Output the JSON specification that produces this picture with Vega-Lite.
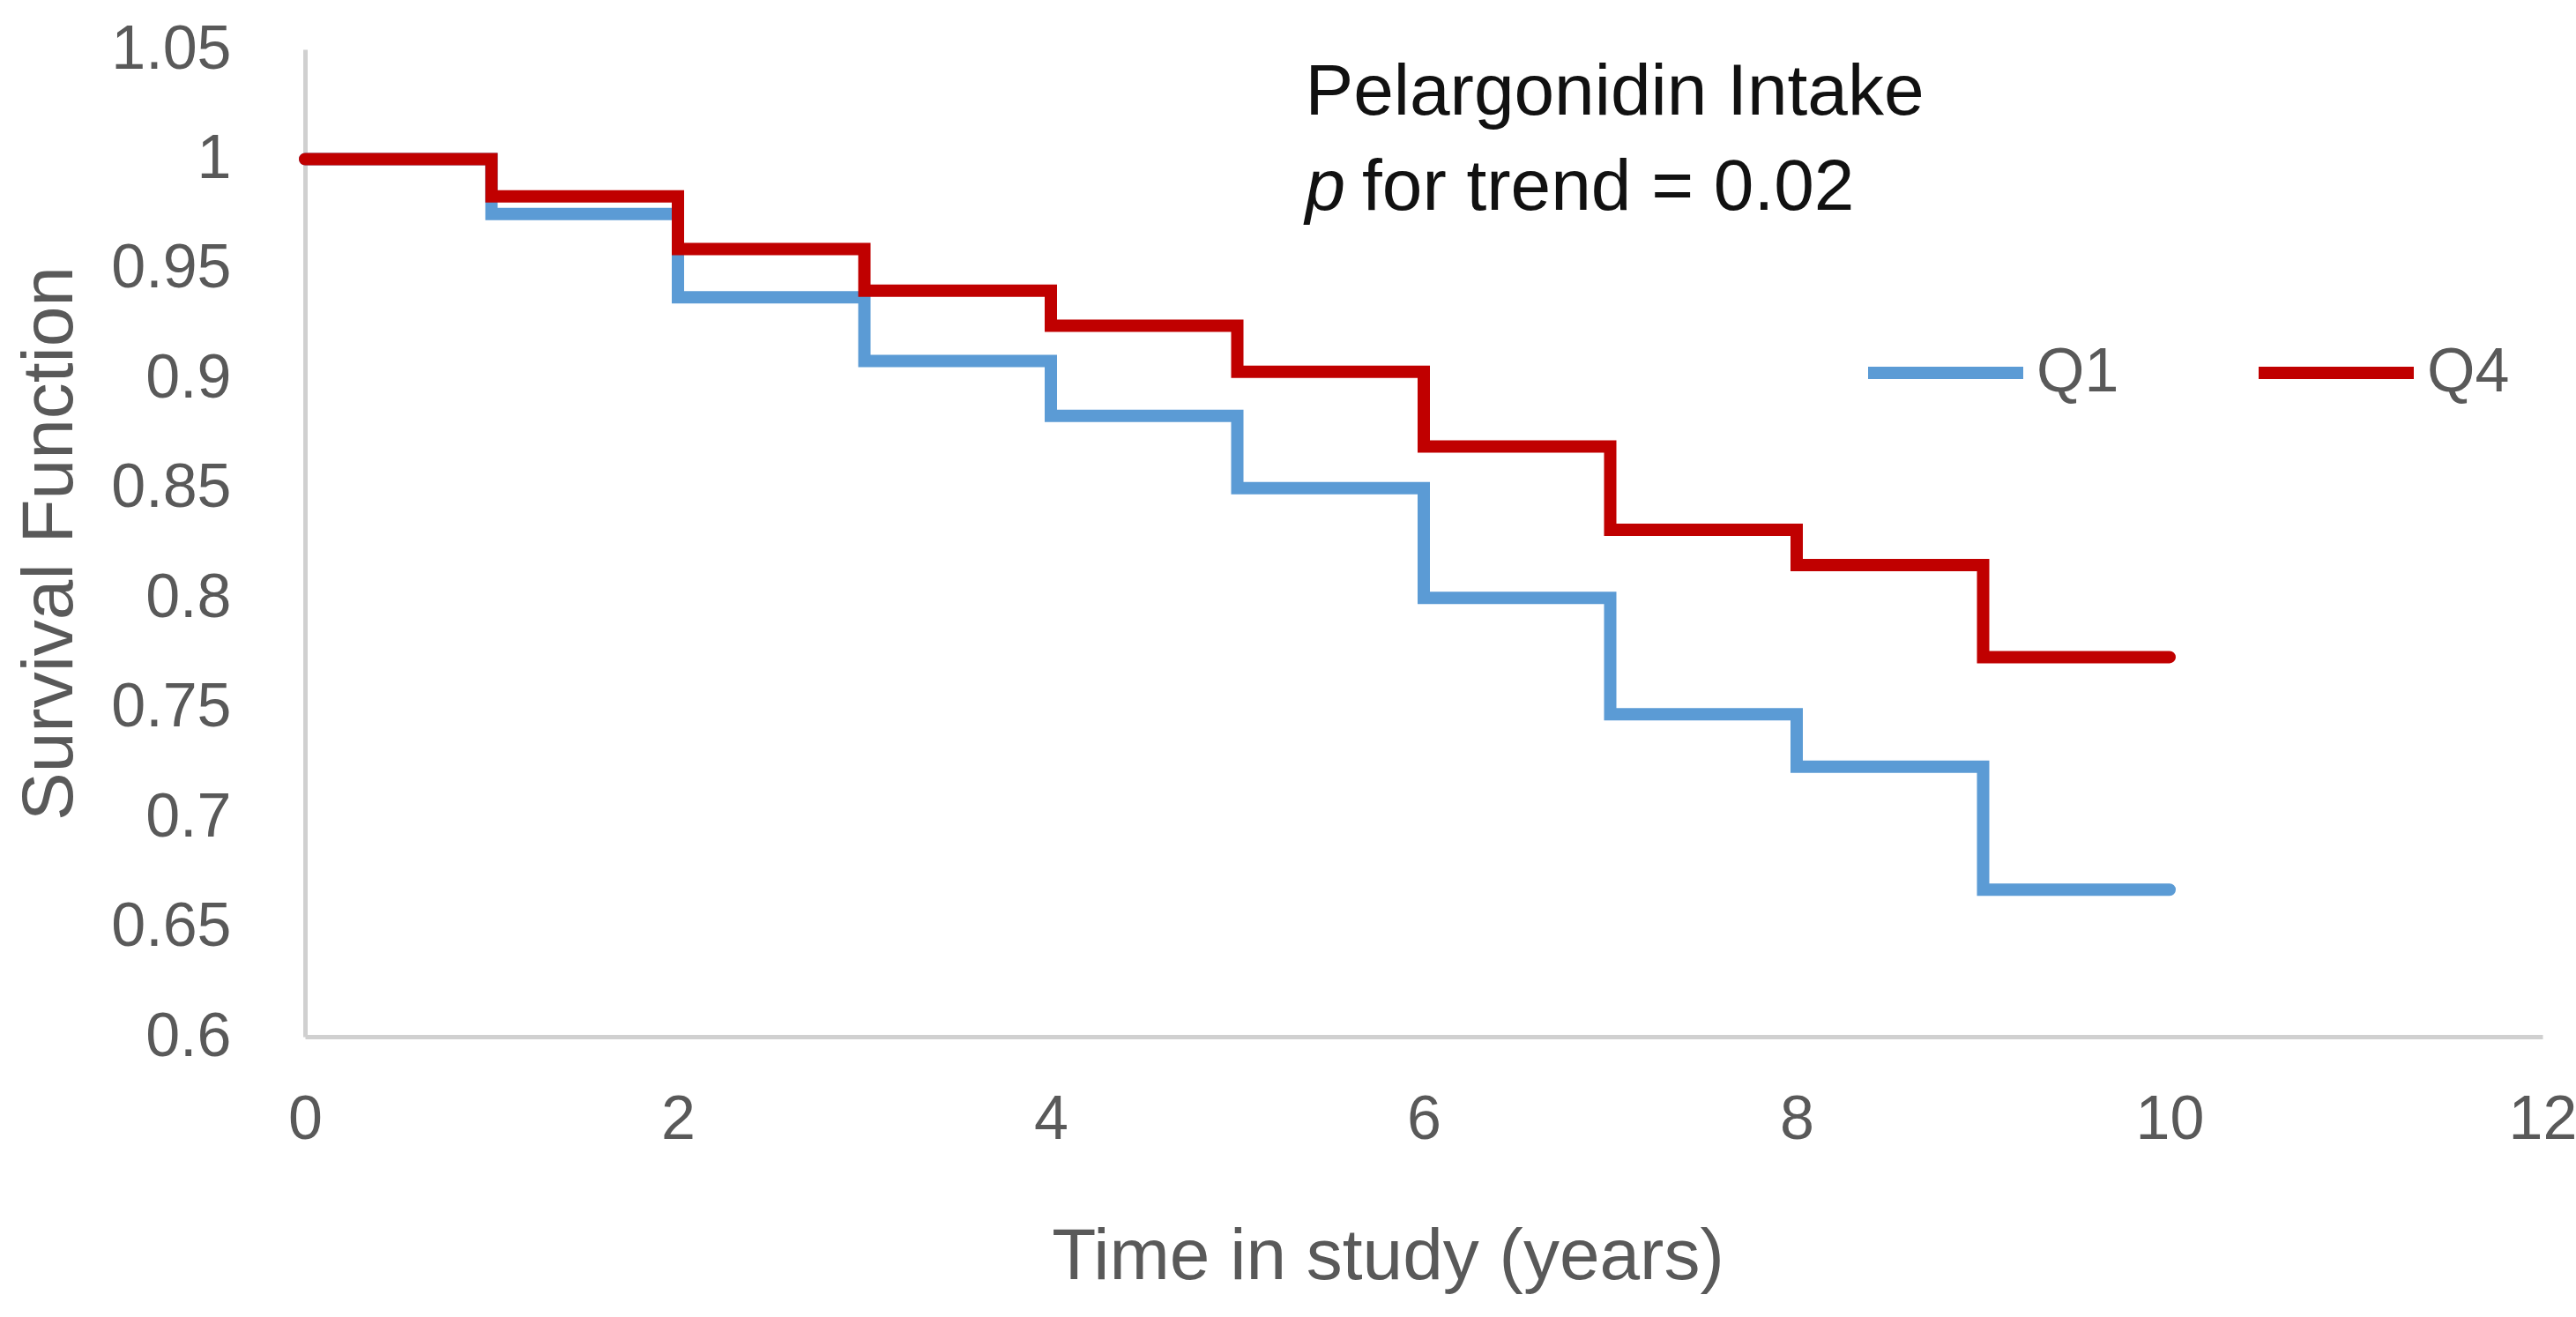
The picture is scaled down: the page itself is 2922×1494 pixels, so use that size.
{
  "$schema": "https://vega.github.io/schema/vega-lite/v6.json",
  "width": 2538,
  "height": 1120,
  "autosize": {"type": "none"},
  "padding": {"left": 346, "top": 56, "right": 38, "bottom": 318},
  "background": "white",
  "config": {"view": {"stroke": null}, "font": "Liberation Sans"},
  "datasets": {
    "survival": [
      {"group": "Q1", "time": 0, "surv": 1.0},
      {"group": "Q1", "time": 1, "surv": 0.975},
      {"group": "Q1", "time": 2, "surv": 0.937},
      {"group": "Q1", "time": 3, "surv": 0.908},
      {"group": "Q1", "time": 4, "surv": 0.883},
      {"group": "Q1", "time": 5, "surv": 0.85},
      {"group": "Q1", "time": 6, "surv": 0.8},
      {"group": "Q1", "time": 7, "surv": 0.747},
      {"group": "Q1", "time": 8, "surv": 0.723},
      {"group": "Q1", "time": 9, "surv": 0.667},
      {"group": "Q1", "time": 10, "surv": 0.667},
      {"group": "Q4", "time": 0, "surv": 1.0},
      {"group": "Q4", "time": 1, "surv": 0.983},
      {"group": "Q4", "time": 2, "surv": 0.959},
      {"group": "Q4", "time": 3, "surv": 0.94},
      {"group": "Q4", "time": 4, "surv": 0.924},
      {"group": "Q4", "time": 5, "surv": 0.903},
      {"group": "Q4", "time": 6, "surv": 0.869},
      {"group": "Q4", "time": 7, "surv": 0.831},
      {"group": "Q4", "time": 8, "surv": 0.815},
      {"group": "Q4", "time": 9, "surv": 0.773},
      {"group": "Q4", "time": 10, "surv": 0.773}
    ],
    "notes": [
      {"part": "title", "x": 5.364, "y": 1.0203, "label": "Pelargonidin Intake"},
      {"part": "p", "x": 5.364, "y": 0.9768, "label": "p"},
      {"part": "rest", "x": 5.669, "y": 0.9768, "label": "for trend = 0.02"}
    ]
  },
  "layer": [
    {
      "data": {"name": "survival"},
      "mark": {"type": "line", "interpolate": "step-after", "strokeWidth": 14, "strokeCap": "round", "strokeJoin": "miter", "clip": false},
      "encoding": {
        "x": {
          "field": "time", "type": "quantitative",
          "scale": {"domain": [0, 12], "nice": false, "zero": false},
          "axis": {
            "values": [0, 2, 4, 6, 8, 10, 12],
            "format": "d",
            "title": "Time in study (years)",
            "grid": false, "ticks": false, "tickSize": 0,
            "domainColor": "#D0D0D0", "domainWidth": 5,
            "labelFontSize": 70, "labelColor": "#595959", "labelPadding": 60, "labelFlush": false,
            "titleFontSize": 82, "titleColor": "#595959", "titleFontWeight": "normal", "titlePadding": 80,
            "titleX": 1228
          }
        },
        "y": {
          "field": "surv", "type": "quantitative",
          "scale": {"domain": [0.6, 1.05], "nice": false, "zero": false},
          "axis": {
            "values": [0.6, 0.65, 0.7, 0.75, 0.8, 0.85, 0.9, 0.95, 1, 1.05],
            "format": "~g",
            "title": "Survival Function",
            "grid": false, "ticks": false, "tickSize": 0,
            "domainColor": "#D0D0D0", "domainWidth": 5,
            "labelFontSize": 70, "labelColor": "#595959", "labelPadding": 84, "labelFlush": false,
            "titleFontSize": 82, "titleColor": "#595959", "titleFontWeight": "normal", "titlePadding": 48
          }
        },
        "color": {
          "field": "group", "type": "nominal",
          "scale": {"domain": ["Q1", "Q4"], "range": ["#5B9BD5", "#C00000"]},
          "legend": {
            "title": null, "orient": "none", "legendX": 1766, "legendY": 272,
            "direction": "horizontal", "symbolType": "stroke", "symbolSize": 30976,
            "symbolStrokeWidth": 14, "labelFontSize": 70, "labelColor": "#595959",
            "labelOffset": 8, "columnPadding": 130, "labelFont": "Liberation Sans"
          }
        }
      }
    },
    {
      "data": {"name": "notes"},
      "transform": [{"filter": "datum.part === 'title'"}],
      "mark": {"type": "text", "align": "left", "baseline": "alphabetic", "fontSize": 82, "color": "#111111", "font": "Liberation Sans"},
      "encoding": {
        "x": {"field": "x", "type": "quantitative"},
        "y": {"field": "y", "type": "quantitative"},
        "text": {"field": "label"}
      }
    },
    {
      "data": {"name": "notes"},
      "transform": [{"filter": "datum.part === 'p'"}],
      "mark": {"type": "text", "align": "left", "baseline": "alphabetic", "fontSize": 82, "fontStyle": "italic", "color": "#111111", "font": "Liberation Sans"},
      "encoding": {
        "x": {"field": "x", "type": "quantitative"},
        "y": {"field": "y", "type": "quantitative"},
        "text": {"field": "label"}
      }
    },
    {
      "data": {"name": "notes"},
      "transform": [{"filter": "datum.part === 'rest'"}],
      "mark": {"type": "text", "align": "left", "baseline": "alphabetic", "fontSize": 82, "color": "#111111", "font": "Liberation Sans"},
      "encoding": {
        "x": {"field": "x", "type": "quantitative"},
        "y": {"field": "y", "type": "quantitative"},
        "text": {"field": "label"}
      }
    }
  ]
}
